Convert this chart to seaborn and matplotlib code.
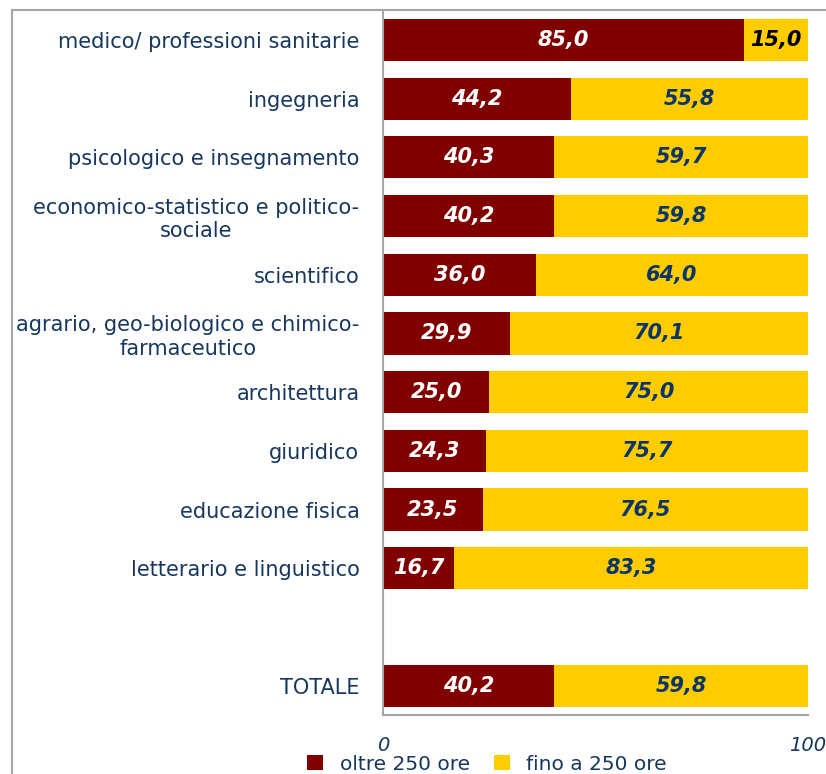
import matplotlib
matplotlib.use("Agg")
import matplotlib.pyplot as plt
import seaborn as sns
import pandas as pd
from matplotlib.lines import Line2D
from matplotlib.patches import Patch

categories = [
    "medico/ professioni sanitarie",
    "ingegneria",
    "psicologico e insegnamento",
    "economico-statistico e politico-\nsociale",
    "scientifico",
    "agrario, geo-biologico e chimico-\nfarmaceutico",
    "architettura",
    "giuridico",
    "educazione fisica",
    "letterario e linguistico",
    "TOTALE",
]
oltre = [85.0, 44.2, 40.3, 40.2, 36.0, 29.9, 25.0, 24.3, 23.5, 16.7, 40.2]
fino = [15.0, 55.8, 59.7, 59.8, 64.0, 70.1, 75.0, 75.7, 76.5, 83.3, 59.8]
series_names = ["oltre 250 ore", "fino a 250 ore"]
xtick_labels = ["0", "100"]

RED = "#800000"
YEL = "#FFCC00"
NAVY = "#17375E"
VALNAVY = "#0B3566"

order = categories[:-1] + [" "] + categories[-1:]

df = pd.DataFrame({"cat": categories, "oltre": oltre, "fino": fino})
df["tot"] = df["oltre"] + df["fino"]

sns.set_theme(style="white")
plt.rcParams["font.family"] = ["DejaVu Sans"]

fig = plt.figure(figsize=(8.26, 7.74), dpi=100)
ax = fig.add_axes([383 / 826, 1 - 715 / 774, (808 - 383) / 826, (715 - 10.6) / 774])

sns.barplot(data=df, x="tot", y="cat", order=order, color=YEL, saturation=1,
            orient="h", width=0.72, ax=ax, errorbar=None, edgecolor="none", linewidth=0)
sns.barplot(data=df, x="oltre", y="cat", order=order, color=RED, saturation=1,
            orient="h", width=0.72, ax=ax, errorbar=None, edgecolor="none", linewidth=0)

for i, row in df.iterrows():
    pos = order.index(row["cat"])
    ax.text(row["oltre"] / 2, pos, f"{row['oltre']:.1f}".replace(".", ","),
            ha="center", va="center", color="white", fontsize=15,
            fontweight="bold", fontstyle="italic")
    fcol = "black" if row["fino"] < 20 else VALNAVY
    ax.text(row["oltre"] + row["fino"] / 2, pos, f"{row['fino']:.1f}".replace(".", ","),
            ha="center", va="center", color=fcol, fontsize=15,
            fontweight="bold", fontstyle="italic")

ax.set_xlim(0, 100)
ax.set_ylim(11.5, -0.5)
ax.set_xticks([0, 100])
ax.set_xticklabels(xtick_labels, fontstyle="italic", color=NAVY, fontsize=14)
ax.set_xlabel("")
ax.set_ylabel("")
ax.tick_params(axis="x", length=0, pad=15)
ax.tick_params(axis="y", length=0, pad=17, labelsize=15, labelcolor=NAVY)
for lab in ax.get_yticklabels():
    lab.set_multialignment("center")

for s in ["top", "right"]:
    ax.spines[s].set_visible(False)
for s in ["left", "bottom"]:
    ax.spines[s].set_color("#A6A6A6")
    ax.spines[s].set_linewidth(1.5)

# chart area border (top and left visible)
fig.add_artist(Line2D([12 / 826, 12 / 826], [0, 1 - 10 / 774], color="#A6A6A6", lw=1.5,
                      transform=fig.transFigure))
fig.add_artist(Line2D([12 / 826, 1], [1 - 10 / 774, 1 - 10 / 774], color="#A6A6A6", lw=1.5,
                      transform=fig.transFigure))

handles = [Patch(facecolor=RED, edgecolor="none"), Patch(facecolor=YEL, edgecolor="none")]
leg = fig.legend(handles, series_names, loc="center", bbox_to_anchor=(487 / 826, 1 - 764 / 774),
                 ncol=2, frameon=False, fontsize=14.5, handlelength=0.8, handleheight=0.8,
                 handletextpad=0.8, columnspacing=1.2, borderpad=0)
for t in leg.get_texts():
    t.set_color(NAVY)

fig.savefig("out.png", dpi=100)
